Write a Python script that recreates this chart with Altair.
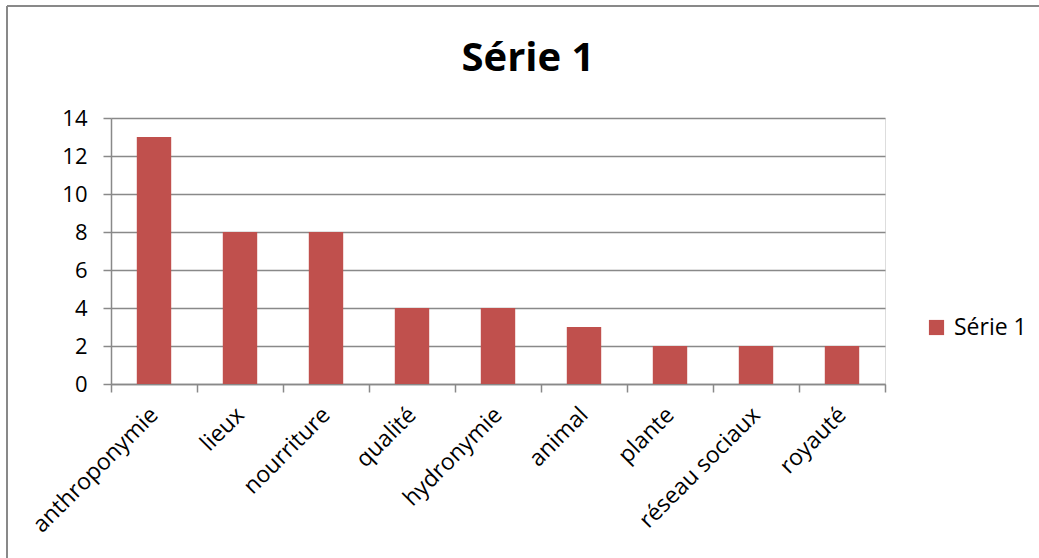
import altair as alt
import pandas as pd

categories = ["anthroponymie", "lieux", "nourriture", "qualité", "hydronymie",
              "animal", "plante", "réseau sociaux", "royauté"]
values = [13, 8, 8, 4, 4, 3, 2, 2, 2]
series_name = "Série 1"

df = pd.DataFrame({"cat": categories, "val": values, "series": [series_name] * len(categories)})
title_df = pd.DataFrame({"t": [series_name]})

FONT = "Open Sans"
GRAY = "#898989"
BAR = "#C0504D"

W, H = 774, 266
PAD_L, PAD_T = 111, 118

bars = alt.Chart(df).mark_bar(width=alt.RelativeBandSize(0.4), color=BAR).encode(
    x=alt.X("cat:N", sort=categories, title=None,
            scale=alt.Scale(paddingInner=0, paddingOuter=0),
            axis=alt.Axis(labelAngle=-45, labelAlign="right", labelBaseline="middle",
                          labelFont=FONT, labelFontSize=23, labelColor="black",
                          labelPadding=19, tickBand="extent", tickSize=8,
                          tickColor=GRAY, tickWidth=1.5, domainColor=GRAY,
                          domainWidth=1.5, grid=False, labelOverlap=False)),
    y=alt.Y("val:Q", title=None,
            scale=alt.Scale(domain=[0, 14]),
            axis=alt.Axis(values=[0, 2, 4, 6, 8, 10, 12, 14], labelFont=FONT,
                          labelFontSize=22, labelColor="black", labelPadding=16,
                          tickSize=8, tickColor=GRAY, tickWidth=1.5,
                          domainColor=GRAY, domainWidth=1.5,
                          grid=True, gridColor=GRAY, gridWidth=1.5)),
    color=alt.Color("series:N", scale=alt.Scale(range=[BAR]),
                    legend=alt.Legend(title=None, orient="none",
                                      legendX=814, legendY=198,
                                      symbolType="square", symbolSize=230,
                                      symbolStrokeWidth=0, labelFont=FONT,
                                      labelFontSize=23, labelColor="black",
                                      labelOffset=6)),
)

title = alt.Chart(title_df).mark_text(font=FONT, fontSize=40, fontWeight="bold",
                                      color="black", align="center",
                                      baseline="alphabetic").encode(
    text="t:N", x=alt.value(528 - PAD_L), y=alt.value(71 - PAD_T))

frame_left = alt.Chart(title_df).mark_rule(color=GRAY, strokeWidth=2).encode(
    x=alt.value(7 - PAD_L), y=alt.value(6 - PAD_T), y2=alt.value(558 - PAD_T + 5))
frame_top = alt.Chart(title_df).mark_rule(color=GRAY, strokeWidth=2).encode(
    x=alt.value(7 - PAD_L), x2=alt.value(1039 - PAD_L + 5), y=alt.value(6 - PAD_T))

chart = alt.layer(frame_left, frame_top, title, bars).properties(
    width=W, height=H,
    padding={"left": PAD_L, "top": PAD_T, "right": 1039 - PAD_L - W, "bottom": 558 - PAD_T - H},
    autosize=alt.AutoSizeParams(type="none"),
).configure_view(stroke=None).configure(background="white")

chart.save("out.html", embed_options={"renderer": "svg", "actions": False})
